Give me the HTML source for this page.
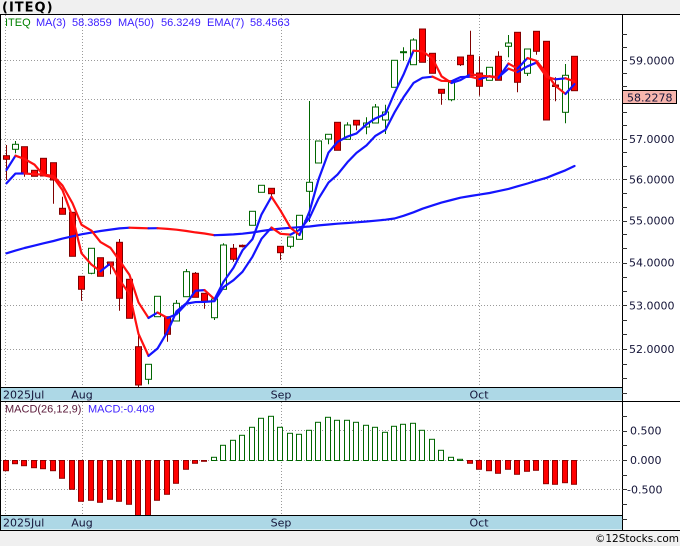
<!DOCTYPE html>
<html><head><meta charset="utf-8">
<style>
html,body{margin:0;padding:0;background:#f0f0f0;}
body{width:680px;height:546px;overflow:hidden;position:relative;}
svg{display:block;position:absolute;left:0;top:0;}
.ax{font-family:"DejaVu Sans","Liberation Sans",sans-serif;font-size:11px;fill:#141438;}
.lg{font-family:"Liberation Sans","DejaVu Sans",sans-serif;font-size:11px;}
</style></head><body>
<svg width="680" height="546" xmlns="http://www.w3.org/2000/svg">
<defs>
<clipPath id="cp"><rect x="1" y="15" width="621" height="372"/></clipPath>
<clipPath id="cm"><rect x="1" y="402" width="621" height="113"/></clipPath>
</defs>
<rect x="0" y="0" width="680" height="546" fill="#f0f0f0"/>
<rect x="0" y="14" width="680" height="516" fill="#ffffff"/>
<text x="2" y="11.5" font-family="DejaVu Sans, Liberation Sans, sans-serif" font-weight="bold" font-size="13" letter-spacing="1" fill="#000">(ITEQ)</text>

<!-- grid -->
<g stroke="#9a9a9a" stroke-width="1" stroke-dasharray="1,2" fill="none">
<line x1="1" y1="60.5" x2="622" y2="60.5"/>
<line x1="1" y1="99.5" x2="622" y2="99.5"/>
<line x1="1" y1="139.5" x2="622" y2="139.5"/>
<line x1="1" y1="179.5" x2="622" y2="179.5"/>
<line x1="1" y1="220.5" x2="622" y2="220.5"/>
<line x1="1" y1="262.5" x2="622" y2="262.5"/>
<line x1="1" y1="305.5" x2="622" y2="305.5"/>
<line x1="1" y1="349.5" x2="622" y2="349.5"/>
<line x1="1" y1="430.5" x2="622" y2="430.5"/>
<line x1="1" y1="460.5" x2="622" y2="460.5"/>
<line x1="1" y1="489.5" x2="622" y2="489.5"/>
<line x1="5.5" y1="15" x2="5.5" y2="387"/>
<line x1="82.5" y1="15" x2="82.5" y2="387"/>
<line x1="281.5" y1="15" x2="281.5" y2="387"/>
<line x1="479.5" y1="15" x2="479.5" y2="387"/>
<line x1="5.5" y1="402" x2="5.5" y2="515"/>
<line x1="82.5" y1="402" x2="82.5" y2="515"/>
<line x1="281.5" y1="402" x2="281.5" y2="515"/>
<line x1="479.5" y1="402" x2="479.5" y2="515"/>
</g>

<g id="price" clip-path="url(#cp)"></g>
<g id="macd" clip-path="url(#cm)"></g>

<!-- frame -->
<rect x="1" y="387.5" width="621" height="13" fill="#add8e6"/>
<rect x="1" y="515.5" width="621" height="14" fill="#add8e6"/>
<g stroke="#000" stroke-width="1">
<line x1="0" y1="14.5" x2="680" y2="14.5"/>
<line x1="0" y1="387.5" x2="622" y2="387.5"/>
<line x1="0" y1="401.5" x2="680" y2="401.5"/>
<line x1="0" y1="515.5" x2="622" y2="515.5"/>
<line x1="0" y1="530.5" x2="680" y2="530.5"/>
<line x1="0.5" y1="14" x2="0.5" y2="531"/>
<line x1="622.5" y1="14" x2="622.5" y2="531"/>
</g>
<g id="ticks" stroke="#333" stroke-width="1"></g>

<!-- date labels -->
<text class="ax" x="3" y="398.5">2025Jul</text>
<text class="ax" x="82" y="398.5" text-anchor="middle">Aug</text>
<text class="ax" x="281" y="398.5" text-anchor="middle">Sep</text>
<text class="ax" x="479" y="398.5" text-anchor="middle">Oct</text>
<text class="ax" x="3" y="526.5">2025Jul</text>
<text class="ax" x="82" y="526.5" text-anchor="middle">Aug</text>
<text class="ax" x="281" y="526.5" text-anchor="middle">Sep</text>
<text class="ax" x="479" y="526.5" text-anchor="middle">Oct</text>

<!-- price axis labels -->
<text class="ax" x="629" y="64.5">59.0000</text>
<text class="ax" x="629" y="143.2">57.0000</text>
<text class="ax" x="629" y="183.5">56.0000</text>
<text class="ax" x="629" y="224.7">55.0000</text>
<text class="ax" x="629" y="266.7">54.0000</text>
<text class="ax" x="629" y="309.5">53.0000</text>
<text class="ax" x="629" y="353.1">52.0000</text>
<rect x="622.5" y="90.5" width="54" height="13" fill="#f7b5ad" stroke="#000" stroke-width="1"/>
<text class="ax" x="627" y="101.3">58.2278</text>

<!-- macd axis labels -->
<text class="ax" x="630" y="434.5">0.500</text>
<text class="ax" x="630" y="464">0.000</text>
<text class="ax" x="627" y="493.5">-0.500</text>

<!-- legends -->
<text class="lg" x="5" y="26" fill="#008000">ITEQ</text>
<text class="lg" x="36" y="26" fill="#3a1cff">MA(3)</text>
<text class="lg" x="72" y="26" fill="#3a1cff">58.3859</text>
<text class="lg" x="118" y="26" fill="#3a1cff">MA(50)</text>
<text class="lg" x="161" y="26" fill="#3a1cff">56.3249</text>
<text class="lg" x="207" y="26" fill="#3a1cff">EMA(7)</text>
<text class="lg" x="250" y="26" fill="#3a1cff">58.4563</text>
<text class="lg" x="5" y="412.5" fill="#5a1838">MACD(26,12,9)</text>
<text class="lg" x="88" y="412.5" fill="#3a1cff">MACD:-0.409</text>

<text x="679" y="542" text-anchor="end" font-family="DejaVu Sans, Liberation Sans, sans-serif" font-size="10.5" fill="#000">©12Stocks.com</text>
</svg>
<script>
(function(){
var C=[
['r',155.7,159.3,145,180],
['g',144.3,149.3,141,153.3],
['r',146.7,173.3,146.7,176.7],
['r',170.3,176.3,170.3,176.3],
['r',158.3,176,158.3,176],
['r',162.7,180,162.7,203.7],
['r',208.3,214.3,196.7,214.3],
['r',212.3,256.3,212.3,256.3],
['r',276.3,289.3,276.3,300.7],
['g',248.3,273.3,248.3,274.3],
['r',257.7,276.3,257.7,276.3],
['r',262,265.3,262,274.3],
['r',242.3,298.3,239,310.7],
['r',279.3,318.3,279.3,318.3],
['r',346.7,385,331.7,392],
['g',364.3,379.3,364.3,384.3],
['g',296.3,316.7,296.3,316.7],
['r',316.7,334.3,316.7,341.7],
['g',303.3,321,300,321],
['g',271.7,296.7,269,296.7],
['r',273.3,297.3,272,297.3],
['r',293.3,301.3,293.3,308.7],
['g',299,317.7,299,320],
['g',245,289.3,243.3,289.3],
['r',248.3,259.3,244,261.7],
['r',245.3,246.7,244.5,247.5],
['g',211.3,225.3,211.3,225.3],
['g',185.3,192.3,185.3,192.3],
['r',188.3,193.7,188.3,198.3],
['r',246.3,252.7,246.3,260],
['g',237,246.3,237,248.3],
['g',215.3,239.3,215.3,239.3],
['g',182.3,191.3,101,222],
['g',141,163,141,163],
['g',134.3,139,134.3,144.3],
['r',122.3,150.3,122.3,150.3],
['g',125,139.3,122.3,139.3],
['r',120.3,125,120.3,130.3],
['g',123,127,117.3,134.3],
['g',107,123,104,123],
['g',112,120,104.7,134],
['g',60.3,87.3,60.3,87.3],
['g',51.7,52.7,47.3,60.7],
['g',40,64.7,38.3,64.7],
['r',29,62.3,29,62.3],
['r',53.3,73.3,53.3,73.3],
['r',89.3,93.3,89.3,104.7],
['g',82.3,99.7,82.3,101.3],
['r',57,64.7,57,66],
['r',55.3,75.7,30.7,75.7],
['r',73,86.3,56.3,95.7],
['g',67.3,80.3,67.3,80.3],
['r',56.3,80.3,51.3,80.3],
['g',43,46.3,35,57.3],
['r',32.3,82.3,32.3,92.3],
['g',49,73.3,49,76],
['r',31.3,51.3,31.3,54.7],
['r',41.3,120,41.3,120],
['r',85,86.5,77.3,101.3],
['g',75.3,112.3,64,123.3],
['r',56.3,90.7,56.3,90.7]
];
var MA50=[253.3,250.6,248,245.6,243.3,241,238.6,236.3,234.3,232.6,231,229.6,228.4,227.7,228,228.3,228.2,228.9,229.7,231,232.4,233.5,235.2,234.9,234.4,233.7,232.5,231,229.6,228.6,227.8,227.2,226.5,225.4,224.5,223.7,223,222.3,221.5,220.7,219.7,218.5,215.8,212.3,208.7,205.4,202.6,200,197.7,196,194.6,193,191.1,188.9,186.3,183.5,180.7,177.8,174.2,170.3,166];
var M=[470.7,463.7,465.7,467.7,468.7,470.7,478.3,489.3,501.3,500.3,502.3,499.3,501.3,504.3,520,520,500.3,494.3,483.3,469.3,463.3,461,457.3,445.3,440.3,435.3,427.3,418.3,416.3,427.3,433.3,434.3,430.3,422.3,417.3,420.3,420.3,422.3,425.3,427.3,432.3,426.3,424.3,423.3,430.3,439.3,450.3,457.3,459.3,463.3,469.3,470.7,473.3,469.3,474.3,471.3,470.3,483.7,484.3,482.7,484.3];
function X(i){return Math.round(5.5+9.475*i);}
var s='';
for(var i=0;i<C.length;i++){
 var d=C[i],x=X(i),red=d[0]==='r',wc=red?'#800000':'#006600';
 s+='<line x1="'+(x+0.5)+'" y1="'+d[3]+'" x2="'+(x+0.5)+'" y2="'+d[4]+'" stroke="'+wc+'" stroke-width="1"/>';
 var h=Math.max(d[2]-d[1],1);
 s+='<rect x="'+(x-2.5)+'" y="'+d[1]+'" width="6" height="'+h+'" fill="'+(red?'#ff0000':'#ffffff')+'" stroke="'+wc+'" stroke-width="1"/>';
}
var c=C.map(function(d){return d[0]==='r'?d[2]:d[1];});
var ext=[187,163.5].concat(c);
var ma3=c.map(function(v,i){return (ext[i]+ext[i+1]+ext[i+2])/3;});
var ema=[183.3];
for(i=1;i<c.length;i++){ema[i]=ema[i-1]+0.25*(c[i]-ema[i-1]);}
function line(arr){
 var out='',cur=null,pts='';
 for(var i=1;i<arr.length;i++){
  var col=arr[i]<=arr[i-1]?'#1414ff':'#ff1010';
  var p0=(X(i-1)+0.5)+','+arr[i-1].toFixed(2),p1=(X(i)+0.5)+','+arr[i].toFixed(2);
  if(col!==cur){
   if(cur)out+='<polyline points="'+pts+'" fill="none" stroke="'+cur+'" stroke-width="2.2" stroke-linejoin="round" stroke-linecap="round"/>';
   cur=col;pts=p0+' '+p1;
  } else pts+=' '+p1;
 }
 out+='<polyline points="'+pts+'" fill="none" stroke="'+cur+'" stroke-width="2.2" stroke-linejoin="round" stroke-linecap="round"/>';
 return out;
}
s+=line(MA50)+line(ema)+line(ma3);
document.getElementById('price').innerHTML=s;
var m='';
for(i=0;i<M.length;i++){
 var x=X(i),v=M[i];
 if(v>460){m+='<rect x="'+(x-2.5)+'" y="460.5" width="5" height="'+Math.max(v-460.5,0.8)+'" fill="#ff0000" stroke="#900000" stroke-width="1"/>';}
 else{m+='<rect x="'+(x-2.5)+'" y="'+v+'" width="5" height="'+Math.max(460.5-v,0.8)+'" fill="#ffffff" stroke="#006600" stroke-width="1"/>';}
}
document.getElementById('macd').innerHTML=m;
var t='';
for(var k=0;k<=26;k++){var p=51+k/3;var y=Math.round(9389.3-2288*Math.log(p))+0.5;t+='<line x1="622" y1="'+y+'" x2="627" y2="'+y+'"/>';}
var mv=[0.75,0.5,0.25,0,-0.25,-0.5,-0.75,-1];
for(k=0;k<mv.length;k++){var y2=Math.round(460-mv[k]*58.8)+0.5;t+='<line x1="622" y1="'+y2+'" x2="627" y2="'+y2+'"/>';}
document.getElementById('ticks').innerHTML=t;
})();
</script>
</body></html>
